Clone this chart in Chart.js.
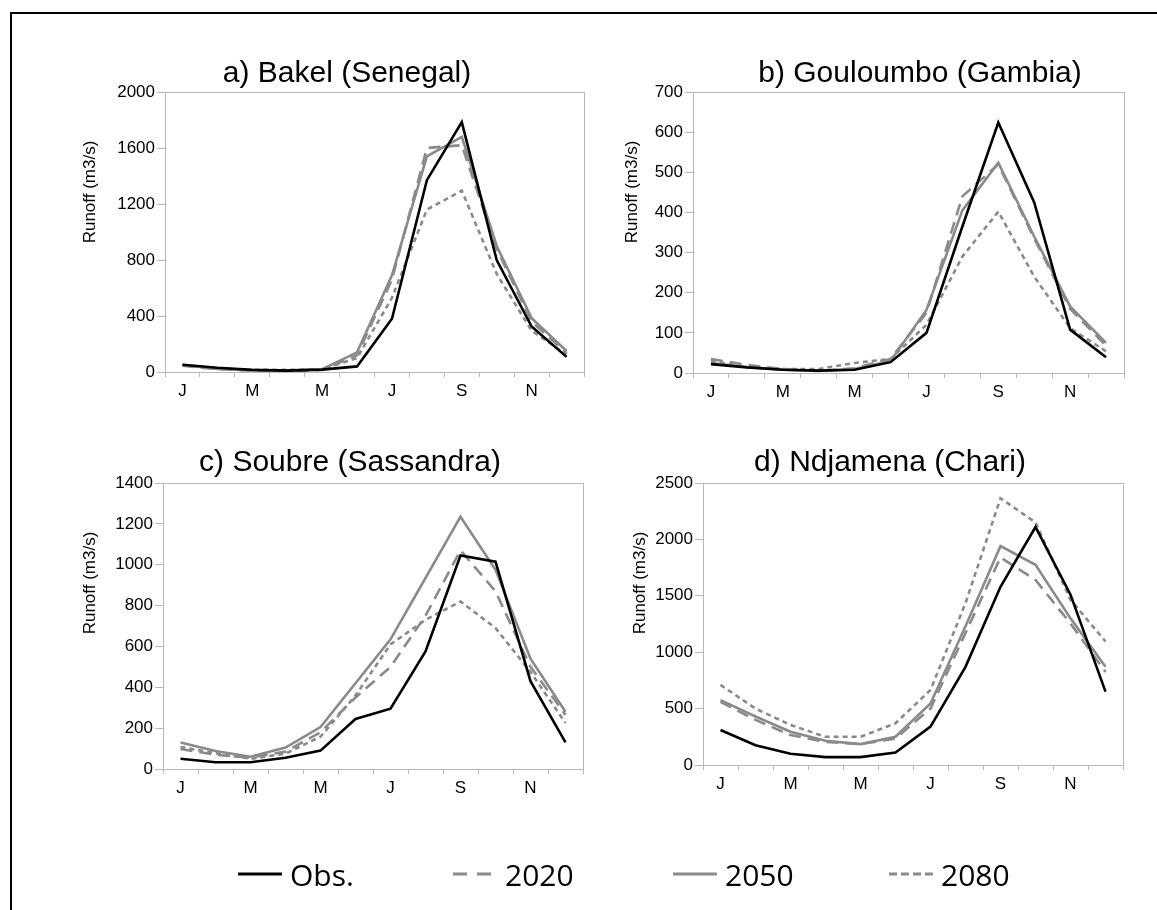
<!DOCTYPE html>
<html>
<head>
<meta charset="utf-8">
<script src="https://cdn.jsdelivr.net/npm/chart.js@4/dist/chart.umd.min.js"></script>
<style>
  html, body { margin: 0; padding: 0; background: #fff; overflow: hidden; }
  #wrap { position: relative; width: 1157px; height: 910px; }
  #wrap canvas { position: absolute; left: 0; top: 0; }
  #frame { position: absolute; left: 10px; top: 12px; right: -5px; bottom: -5px;
           border-top: 2px solid #000; border-left: 2px solid #000; }
  .leg { position: absolute; top: 852px; height: 44px; display: flex; align-items: center;
         font-family: "Open Sans", sans-serif; font-size: 30px; color: #000; }
  .leg svg { margin-right: 8px; }
</style>
</head>
<body>
<div id="wrap">
  <div id="frame"></div>
  <canvas id="cA" width="1157" height="910"></canvas>
  <canvas id="cB" width="1157" height="910"></canvas>
  <canvas id="cC" width="1157" height="910"></canvas>
  <canvas id="cD" width="1157" height="910"></canvas>
  <div class="leg" style="left:238px"><svg width="44" height="6"><line x1="0" y1="3" x2="44" y2="3" stroke="#000" stroke-width="3"/></svg>Obs.</div>
  <div class="leg" style="left:453px"><svg width="44" height="6"><line x1="0" y1="3" x2="44" y2="3" stroke="#8a8a8a" stroke-width="3" stroke-dasharray="14,10"/></svg>2020</div>
  <div class="leg" style="left:673px"><svg width="44" height="6"><line x1="0" y1="3" x2="44" y2="3" stroke="#8a8a8a" stroke-width="3"/></svg>2050</div>
  <div class="leg" style="left:889px"><svg width="44" height="6"><line x1="0" y1="3" x2="44" y2="3" stroke="#8a8a8a" stroke-width="3" stroke-dasharray="8,4"/></svg>2080</div>
</div>
<script>
// ---- data ----
const months = ['J','F','M','A','M','J','J','A','S','O','N','D'];
const seriesNames = ['Obs.', '2020', '2050', '2080'];

const bakelObs  = [52, 30, 15, 10, 17, 40, 380, 1370, 1785, 800, 325, 108];
const bakel2020 = [45, 20, 10, 3, 15, 120, 660, 1600, 1620, 880, 360, 135];
const bakel2050 = [50, 22, 12, 12, 20, 140, 690, 1540, 1680, 900, 385, 150];
const bakel2080 = [50, 25, 15, 15, 20, 100, 530, 1160, 1295, 700, 295, 125];

const goulObs  = [22, 14, 8, 6, 8, 27, 100, 365, 624, 425, 108, 39];
const goul2020 = [35, 20, 10, 5, 12, 35, 150, 440, 520, 335, 160, 68];
const goul2050 = [25, 15, 8, 5, 10, 30, 157, 405, 524, 340, 166, 75];
const goul2080 = [30, 15, 10, 10, 25, 35, 120, 290, 402, 240, 112, 54];

const soubObs  = [50, 33, 33, 55, 90, 245, 295, 575, 1045, 1015, 430, 130];
const soub2020 = [98, 70, 55, 85, 180, 350, 500, 750, 1070, 870, 500, 265];
const soub2050 = [130, 88, 60, 105, 205, 420, 635, 935, 1235, 975, 540, 280];
const soub2080 = [108, 77, 50, 75, 158, 360, 610, 730, 820, 690, 475, 225];

const ndjObs  = [310, 175, 100, 70, 70, 110, 340, 870, 1580, 2110, 1510, 650];
const ndj2020 = [560, 400, 265, 205, 185, 235, 500, 1170, 1840, 1640, 1255, 825];
const ndj2050 = [575, 430, 295, 215, 185, 250, 545, 1230, 1940, 1775, 1300, 870];
const ndj2080 = [710, 500, 355, 250, 250, 370, 665, 1435, 2365, 2150, 1465, 1095];

const titles = ['a) Bakel (Senegal)', 'b) Gouloumbo (Gambia)', 'c) Soubre (Sassandra)', 'd) Ndjamena (Chari)'];
const yTitle = 'Runoff (m3/s)';

// ---- styles ----
const styles = [
  { color: '#000000', dash: [] },
  { color: '#8a8a8a', dash: [12, 7] },
  { color: '#8a8a8a', dash: [] },
  { color: '#8a8a8a', dash: [5, 4] }
];
const AXIS = '#b8b8b8';
const W = 1157, H = 910, YW = 60, XH = 40;

const framePlugin = {
  id: 'panelDeco',
  beforeDatasetsDraw(chart, args, o) {
    const a = chart.chartArea, ctx = chart.ctx;
    ctx.save();
    ctx.strokeStyle = AXIS; ctx.lineWidth = 1;
    ctx.strokeRect(Math.round(a.left) + 0.5, Math.round(a.top) + 0.5,
                   Math.round(a.right - a.left), Math.round(a.bottom - a.top));
    ctx.restore();
  },
  afterDraw(chart, args, o) {
    const ctx = chart.ctx;
    ctx.save();
    ctx.fillStyle = '#000';
    ctx.font = '30px "Liberation Sans", Arial, sans-serif';
    ctx.textAlign = 'center'; ctx.textBaseline = 'middle';
    ctx.fillText(o.title, o.tx, o.ty);
    ctx.translate(o.yx, o.yy);
    ctx.rotate(-Math.PI / 2);
    ctx.font = '17px "Liberation Sans", Arial, sans-serif';
    ctx.fillText(yTitle, 0, 0);
    ctx.restore();
  }
};

function panel(id, rect, series, yMax, yStep, title, tpos, ypos) {
  const datasets = series.map((d, i) => ({
    label: seriesNames[i], data: d,
    borderColor: styles[i].color, borderDash: styles[i].dash,
    borderWidth: 2.6, pointRadius: 0, tension: 0, fill: false,
    order: i === 0 ? 0 : 4 - i
  }));
  new Chart(document.getElementById(id), {
    type: 'line',
    data: { labels: months, datasets },
    plugins: [framePlugin],
    options: {
      responsive: false, animation: false, devicePixelRatio: 1,
      events: [],
      layout: { padding: { left: rect.L - YW, top: rect.T, right: W - rect.R, bottom: H - rect.B - XH } },
      plugins: {
        legend: { display: false }, title: { display: false }, tooltip: { enabled: false },
        panelDeco: { title, tx: tpos[0], ty: tpos[1], yx: ypos[0], yy: ypos[1] }
      },
      scales: {
        x: {
          type: 'category', offset: true,
          afterFit: s => { s.height = XH; },
          grid: { offset: true, drawOnChartArea: false, tickLength: 5, color: AXIS },
          border: { color: AXIS },
          ticks: { autoSkip: false, maxRotation: 0, padding: 4, color: '#000',
                   font: { family: '"Liberation Sans", Arial, sans-serif', size: 17 },
                   callback: (v, i) => (i % 2 === 0 ? months[i] : '') }
        },
        y: {
          min: 0, max: yMax,
          afterFit: s => { s.width = YW; },
          grid: { drawOnChartArea: false, tickLength: 8, color: AXIS },
          border: { color: AXIS },
          ticks: { stepSize: yStep, padding: 2, color: '#000',
                   font: { family: '"Liberation Sans", Arial, sans-serif', size: 17 },
                   callback: v => String(v) }
        }
      }
    }
  });
}

panel('cA', { L: 165, R: 584, T: 92, B: 372 }, [bakelObs, bakel2020, bakel2050, bakel2080], 2000, 400, titles[0], [347, 74], [90, 192]);
panel('cB', { L: 693, R: 1124, T: 92, B: 373 }, [goulObs, goul2020, goul2050, goul2080], 700, 100, titles[1], [920, 74], [632, 192]);
panel('cC', { L: 163, R: 583, T: 483, B: 769 }, [soubObs, soub2020, soub2050, soub2080], 1400, 200, titles[2], [350, 463], [90, 583]);
panel('cD', { L: 703, R: 1123, T: 483, B: 765 }, [ndjObs, ndj2020, ndj2050, ndj2080], 2500, 500, titles[3], [890, 463], [640, 583]);
</script>
</body>
</html>
